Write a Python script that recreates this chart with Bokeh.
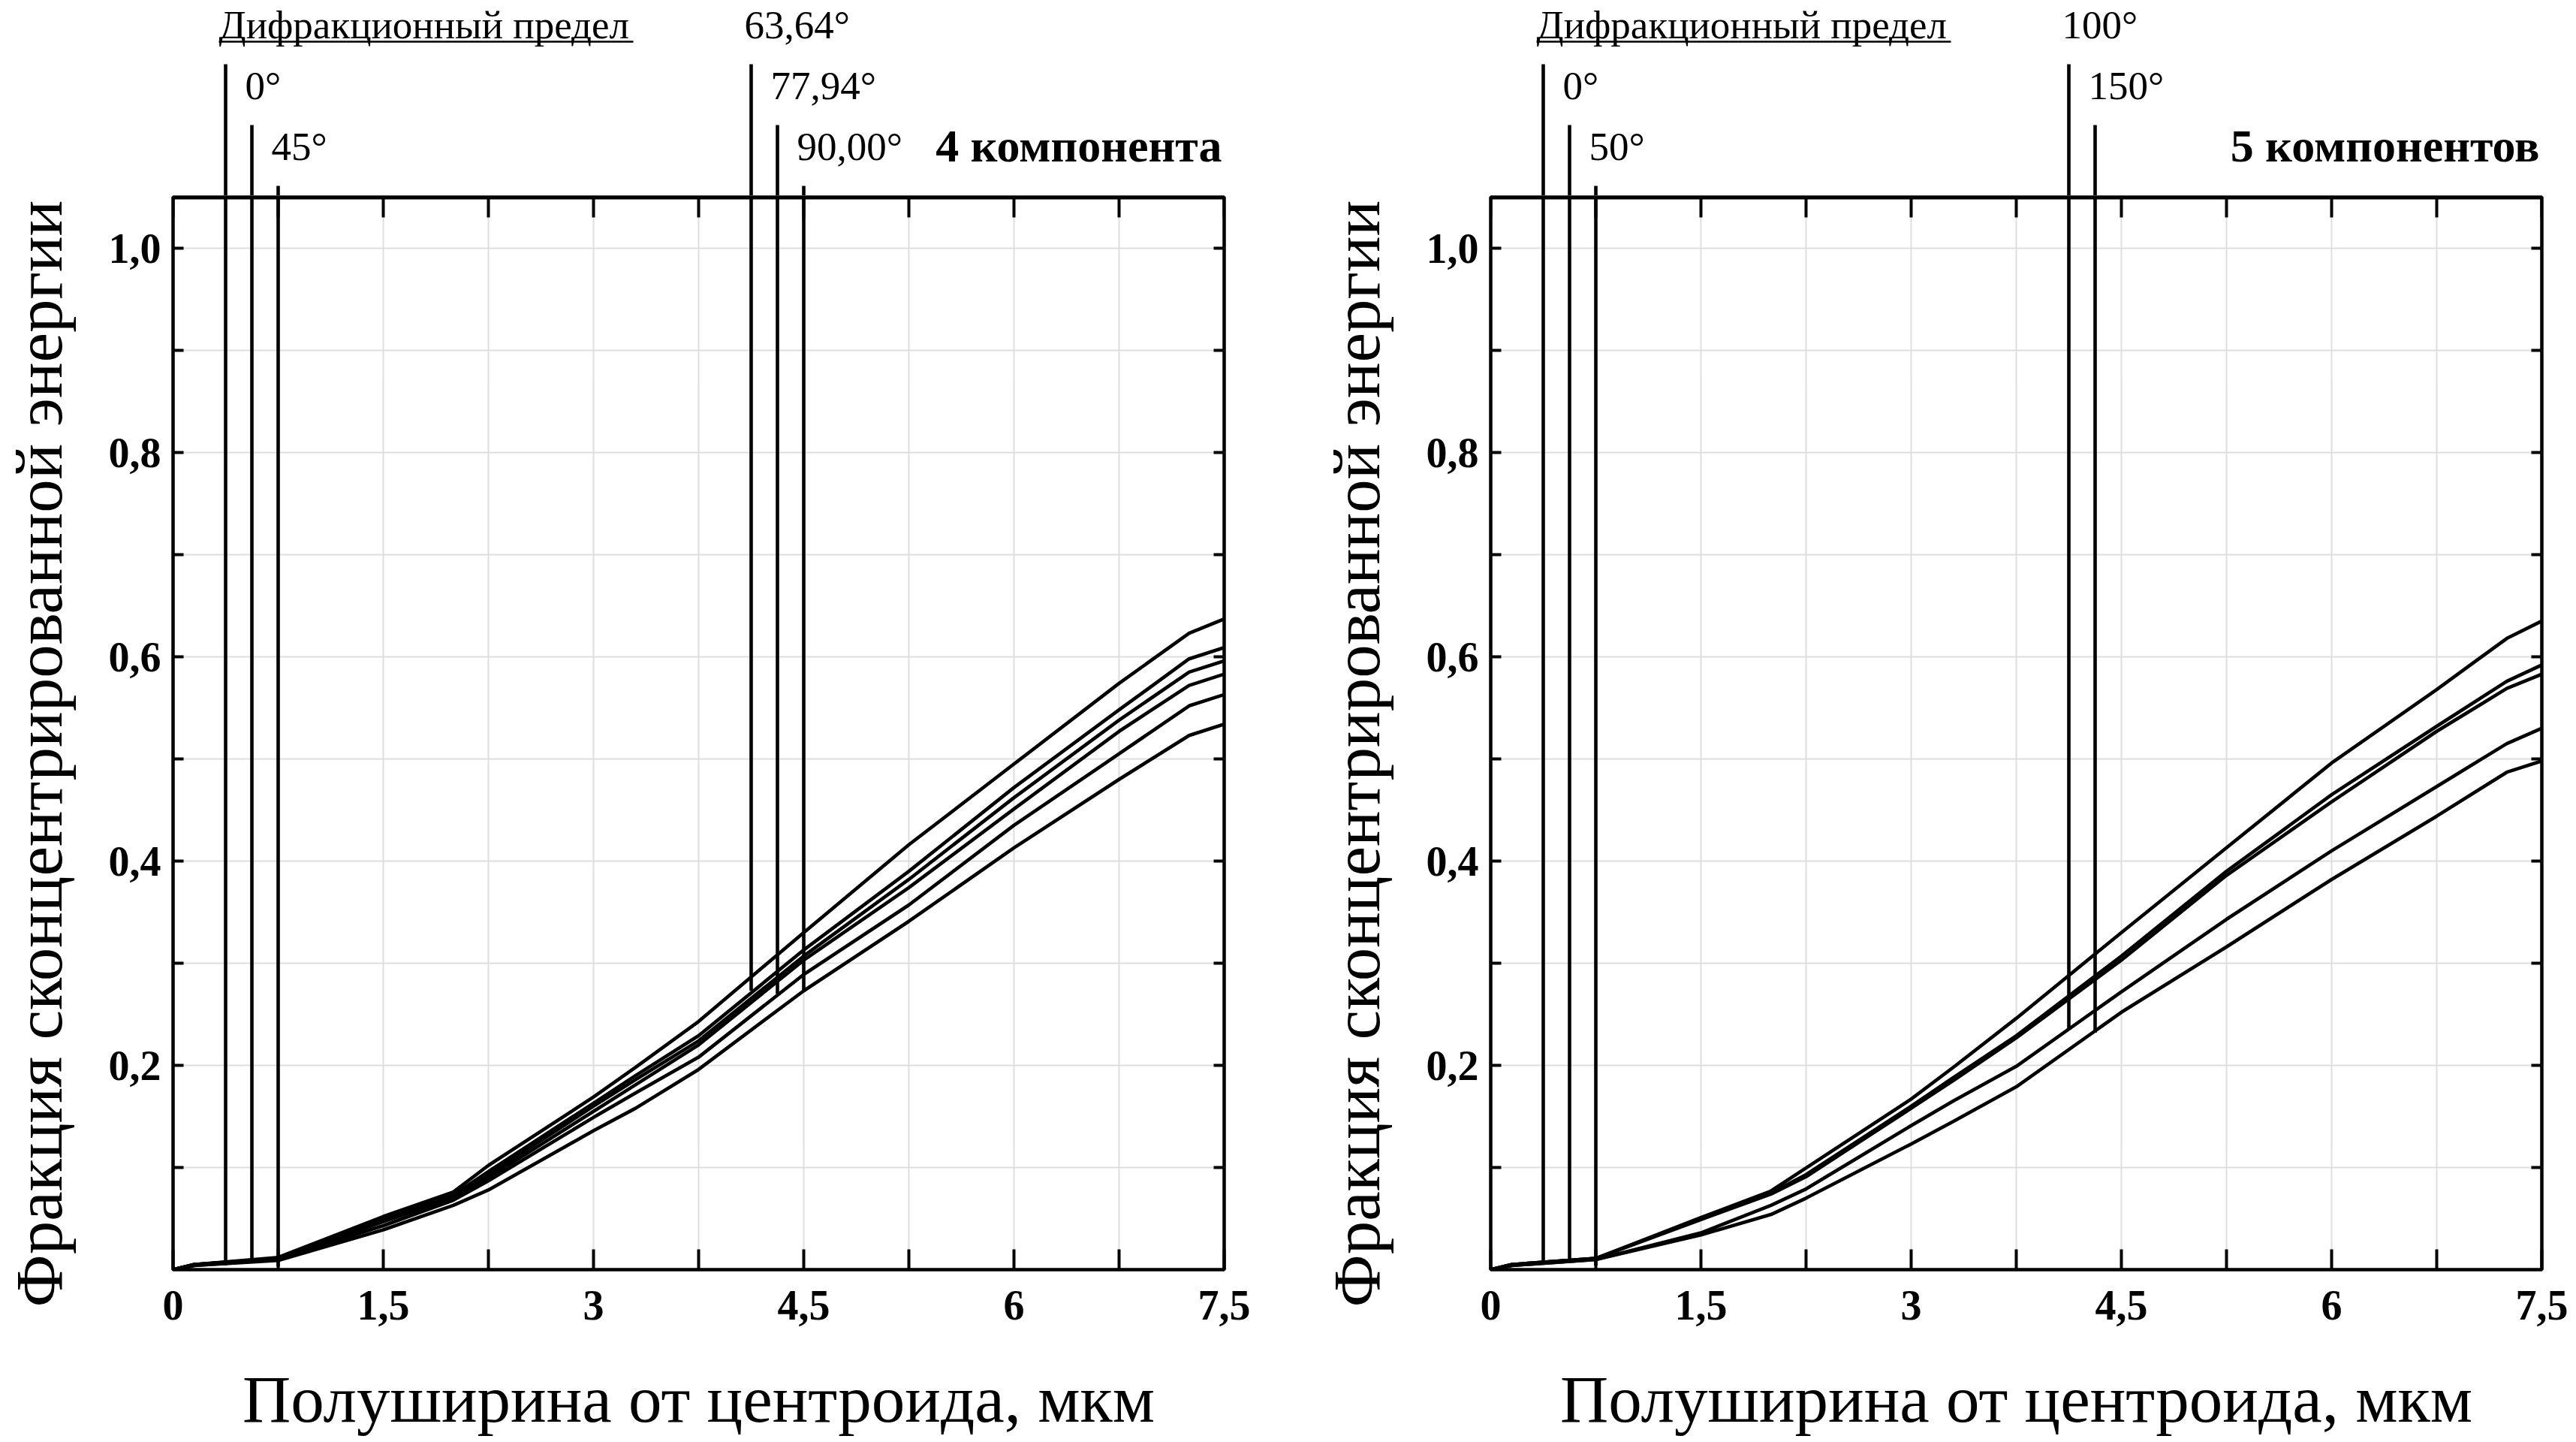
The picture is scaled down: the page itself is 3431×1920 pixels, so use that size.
import math
from bokeh.plotting import figure
from bokeh.models import Range1d, LinearAxis, FixedTicker, Grid
from bokeh.layouts import row, column
from bokeh.embed import file_html
from bokeh.resources import INLINE
from bokeh.core.properties import value

# ---------------- data ----------------
radius = [0, 0.15, 0.75, 1.5, 2.0, 2.25, 3.0, 3.3, 3.75, 4.5, 5.25, 6.0, 6.75, 7.25, 7.5]

# 4 components: diffraction limit + 5 field angles
ee4_c1 = [0, 0.005, 0.012, 0.052, 0.076, 0.102, 0.169, 0.198, 0.243, 0.330, 0.416, 0.495, 0.574, 0.623, 0.637]
ee4_c2 = [0, 0.005, 0.011, 0.050, 0.073, 0.096, 0.163, 0.190, 0.229, 0.313, 0.390, 0.472, 0.548, 0.598, 0.609]
ee4_c3 = [0, 0.005, 0.011, 0.048, 0.071, 0.093, 0.160, 0.186, 0.224, 0.307, 0.382, 0.462, 0.538, 0.585, 0.596]
ee4_c4 = [0, 0.005, 0.010, 0.047, 0.070, 0.090, 0.155, 0.181, 0.220, 0.303, 0.374, 0.451, 0.527, 0.572, 0.583]
ee4_c5 = [0, 0.004, 0.010, 0.043, 0.068, 0.087, 0.149, 0.173, 0.208, 0.289, 0.357, 0.435, 0.505, 0.552, 0.563]
ee4_c6 = [0, 0.004, 0.009, 0.039, 0.063, 0.078, 0.136, 0.158, 0.196, 0.273, 0.341, 0.413, 0.480, 0.523, 0.534]

# 5 components: diffraction limit + 4 field angles
ee5_c1 = [0, 0.005, 0.011, 0.051, 0.077, 0.0995, 0.167, 0.198, 0.246, 0.330, 0.413, 0.496, 0.568, 0.618, 0.635]
ee5_c2 = [0, 0.005, 0.011, 0.050, 0.075, 0.093, 0.160, 0.188, 0.229, 0.307, 0.390, 0.465, 0.532, 0.576, 0.592]
ee5_c3 = [0, 0.005, 0.011, 0.049, 0.074, 0.091, 0.158, 0.185, 0.227, 0.303, 0.386, 0.458, 0.527, 0.569, 0.583]
ee5_c4 = [0, 0.004, 0.010, 0.036, 0.063, 0.079, 0.141, 0.165, 0.199, 0.272, 0.343, 0.410, 0.473, 0.515, 0.530]
ee5_c5 = [0, 0.004, 0.010, 0.034, 0.054, 0.070, 0.123, 0.145, 0.179, 0.252, 0.316, 0.382, 0.444, 0.487, 0.498]

# marker lines (x position, label, lower end value, stagger level)
marks4_x = [0.375, 0.5625, 0.75, 4.125, 4.3125, 4.5]
marks4_label = ["Дифракционный предел", "0°", "45°", "63,64°", "77,94°", "90,00°"]
marks4_bottom = [0.004, 0.008, 0.003, 0.273, 0.270, 0.273]
marks4_level = [0, 1, 2, 0, 1, 2]

marks5_x = [0.375, 0.5625, 0.75, 4.125, 4.3125]
marks5_label = ["Дифракционный предел", "0°", "50°", "100°", "150°"]
marks5_bottom = [0.006, 0.007, 0.004, 0.235, 0.232]
marks5_level = [0, 1, 2, 0, 1]

title4 = "4 компонента"
title5 = "5 компонентов"

x_ticks = [0, 1.5, 3, 4.5, 6, 7.5]
x_tick_labels = ["0", "1,5", "3", "4,5", "6", "7,5"]
x_minor = [0.75, 2.25, 3.75, 5.25, 6.75]
y_ticks = [0.2, 0.4, 0.6, 0.8, 1.0]
y_tick_labels = ["0,2", "0,4", "0,6", "0,8", "1,0"]
y_minor = [0.1, 0.3, 0.5, 0.7, 0.9]

x_label = "Полуширина от центроида, мкм"
y_label = "Фракция сконцентрированной энергии"

# ---------------- layout constants (pixels) ----------------
FONT = "Liberation Serif"
X_MAX, Y_MAX = 7.5, 1.05
FRAME_W, FRAME_H = 1400, 1428
GAP = 2
UPPER_H = 260                 # strip above the frame
BOTTOM_B = 110                # border under the frame (tick labels)
XLAB_H = 116                  # strip holding the x axis title
TOTAL_H = UPPER_H + GAP + FRAME_H + BOTTOM_B + XLAB_H
YLAB_W = 130                  # strip holding the y axis title
INNER_L = 100                 # border left of the frame (tick labels)
PPX = FRAME_W / X_MAX
PPY = FRAME_H / Y_MAX
LEVEL_TOP_PX = [177, 96, 15]  # line tops above the frame for each stagger level
LABEL_RISE_PX = 35            # label baseline above its line top
TITLE_PX = 48
XTICK_LEN, YTICK_LEN = 27, 14
LINE_W = 4.6
FRAME_LW = 4.5
MID = 0.3375                  # text centre above baseline, as a fraction of font size
FS_LAB, FS_TITLE, FS_AXIS = 53, 62, 89


def style_axis(ax, tick_len):
    ax.axis_line_color = None
    ax.major_tick_in = tick_len
    ax.major_tick_out = 0
    ax.minor_tick_in = tick_len
    ax.minor_tick_out = 0
    ax.major_tick_line_width = 4
    ax.minor_tick_line_width = 4
    ax.major_tick_line_color = "black"
    ax.minor_tick_line_color = "black"
    ax.major_label_text_font = FONT
    ax.major_label_text_font_style = "bold"
    ax.major_label_text_font_size = "56px"
    ax.major_label_text_color = "black"


def bare(fig):
    fig.outline_line_color = None
    fig.background_fill_color = "white"
    fig.border_fill_color = "white"


def make_panel(curves, mx, mlab, mbot, mlvl, title, border_r):
    main_w = INNER_L + FRAME_W + border_r
    xr = Range1d(0, X_MAX)

    # ---- main plot ----
    lower = figure(width=main_w, height=GAP + FRAME_H + BOTTOM_B, x_range=xr,
                   y_range=Range1d(0, Y_MAX), output_backend="svg", toolbar_location=None,
                   x_axis_type=None, y_axis_type=None,
                   min_border_left=INNER_L, min_border_right=border_r,
                   min_border_top=GAP, min_border_bottom=BOTTOM_B)
    lower.outline_line_color = "black"
    lower.outline_line_width = FRAME_LW
    lower.background_fill_color = "white"
    lower.border_fill_color = "white"

    all_x = sorted(x_ticks + x_minor)
    all_y = sorted(y_ticks + y_minor)
    lower.add_layout(Grid(dimension=0, ticker=FixedTicker(ticks=all_x),
                          grid_line_color="#dedede", grid_line_width=2))
    lower.add_layout(Grid(dimension=1, ticker=FixedTicker(ticks=all_y),
                          grid_line_color="#dedede", grid_line_width=2))

    xb = LinearAxis(ticker=FixedTicker(ticks=x_ticks, minor_ticks=x_minor),
                    major_label_overrides=dict(zip(x_ticks, x_tick_labels)))
    style_axis(xb, XTICK_LEN)
    xb.major_label_standoff = 28
    lower.add_layout(xb, "below")

    yl = LinearAxis(ticker=FixedTicker(ticks=y_ticks, minor_ticks=y_minor),
                    major_label_overrides=dict(zip(y_ticks, y_tick_labels)))
    style_axis(yl, YTICK_LEN)
    yl.major_label_standoff = 16
    lower.add_layout(yl, "left")

    # inward ticks on the top and right sides of the frame
    lower.segment(x0=all_x, y0=[Y_MAX] * len(all_x), x1=all_x,
                  y1=[Y_MAX - XTICK_LEN / PPY] * len(all_x), line_color="black", line_width=4)
    lower.segment(x0=[X_MAX] * len(all_y), y0=all_y, x1=[X_MAX - YTICK_LEN / PPX] * len(all_y),
                  y1=all_y, line_color="black", line_width=4)
    # slightly heavier top edge
    lower.segment(x0=[0], y0=[Y_MAX], x1=[X_MAX], y1=[Y_MAX], line_color="black", line_width=6)

    for ys in curves:
        lower.line(radius, ys, line_color="black", line_width=LINE_W)

    # ---- strip above the frame, continuing the same data coordinates ----
    y0 = Y_MAX + GAP / PPY
    upper = figure(width=main_w, height=UPPER_H, x_range=xr,
                   y_range=Range1d(y0, y0 + UPPER_H / PPY),
                   output_backend="svg", toolbar_location=None,
                   x_axis_type=None, y_axis_type=None,
                   min_border_left=INNER_L, min_border_right=border_r,
                   min_border_top=0, min_border_bottom=0)
    bare(upper)

    tops = [Y_MAX + LEVEL_TOP_PX[l] / PPY for l in mlvl]
    lab_y = [Y_MAX + (LEVEL_TOP_PX[l] + LABEL_RISE_PX + MID * FS_LAB) / PPY for l in mlvl]
    for fig in (lower, upper):
        fig.segment(x0=mx, y0=mbot, x1=mx, y1=tops, line_color="black", line_width=LINE_W)

    upper.text(x=mx, y=lab_y, text=mlab, text_font=value(FONT), text_font_size=f"{FS_LAB}px",
               text_align="left", text_baseline="alphabetic", x_offset=-9, text_color="black")
    # underline of the first label
    ux0 = mx[0] - 9 / PPX
    uy = Y_MAX + (LEVEL_TOP_PX[mlvl[0]] + LABEL_RISE_PX - 5) / PPY
    upper.segment(x0=[ux0], y0=[uy], x1=[ux0 + 552 / PPX], y1=[uy],
                  line_color="black", line_width=2.5)

    upper.text(x=[X_MAX], y=[Y_MAX + (TITLE_PX + MID * FS_TITLE) / PPY], text=[title],
               text_font=value(FONT), text_font_size=f"{FS_TITLE}px", text_font_style="bold",
               text_align="right", text_baseline="alphabetic", x_offset=-3, text_color="black")

    # ---- strip below holding the x axis title ----
    xlab = figure(width=main_w, height=XLAB_H, x_range=xr, y_range=Range1d(0, XLAB_H),
                  output_backend="svg", toolbar_location=None,
                  x_axis_type=None, y_axis_type=None,
                  min_border_left=INNER_L, min_border_right=border_r,
                  min_border_top=0, min_border_bottom=0)
    bare(xlab)
    xlab.text(x=[X_MAX / 2], y=[(TOTAL_H - 1893) + MID * FS_AXIS], text=[x_label],
              text_font=value(FONT), text_font_size=f"{FS_AXIS}px", text_align="center",
              text_baseline="alphabetic", text_color="black")

    # ---- strip on the left holding the y axis title ----
    ylab = figure(width=YLAB_W, height=TOTAL_H, x_range=Range1d(0, YLAB_W),
                  y_range=Range1d(0, TOTAL_H), output_backend="svg", toolbar_location=None,
                  x_axis_type=None, y_axis_type=None,
                  min_border_left=0, min_border_right=0, min_border_top=0, min_border_bottom=0)
    bare(ylab)
    ylab.text(x=[82 - MID * FS_AXIS], y=[TOTAL_H - 1740], text=[y_label],
              text_font=value(FONT), text_font_size=f"{FS_AXIS}px", text_align="left",
              text_baseline="alphabetic", angle=math.pi / 2, text_color="black")

    return row(ylab, column(upper, lower, xlab, spacing=0), spacing=0)


left = make_panel([ee4_c1, ee4_c2, ee4_c3, ee4_c4, ee4_c5, ee4_c6],
                  marks4_x, marks4_label, marks4_bottom, marks4_level, title4, border_r=125)
right = make_panel([ee5_c1, ee5_c2, ee5_c3, ee5_c4, ee5_c5],
                   marks5_x, marks5_label, marks5_bottom, marks5_level, title5, border_r=43)

layout = row(left, right, spacing=0)
open("out.html", "w").write(file_html(layout, INLINE))
